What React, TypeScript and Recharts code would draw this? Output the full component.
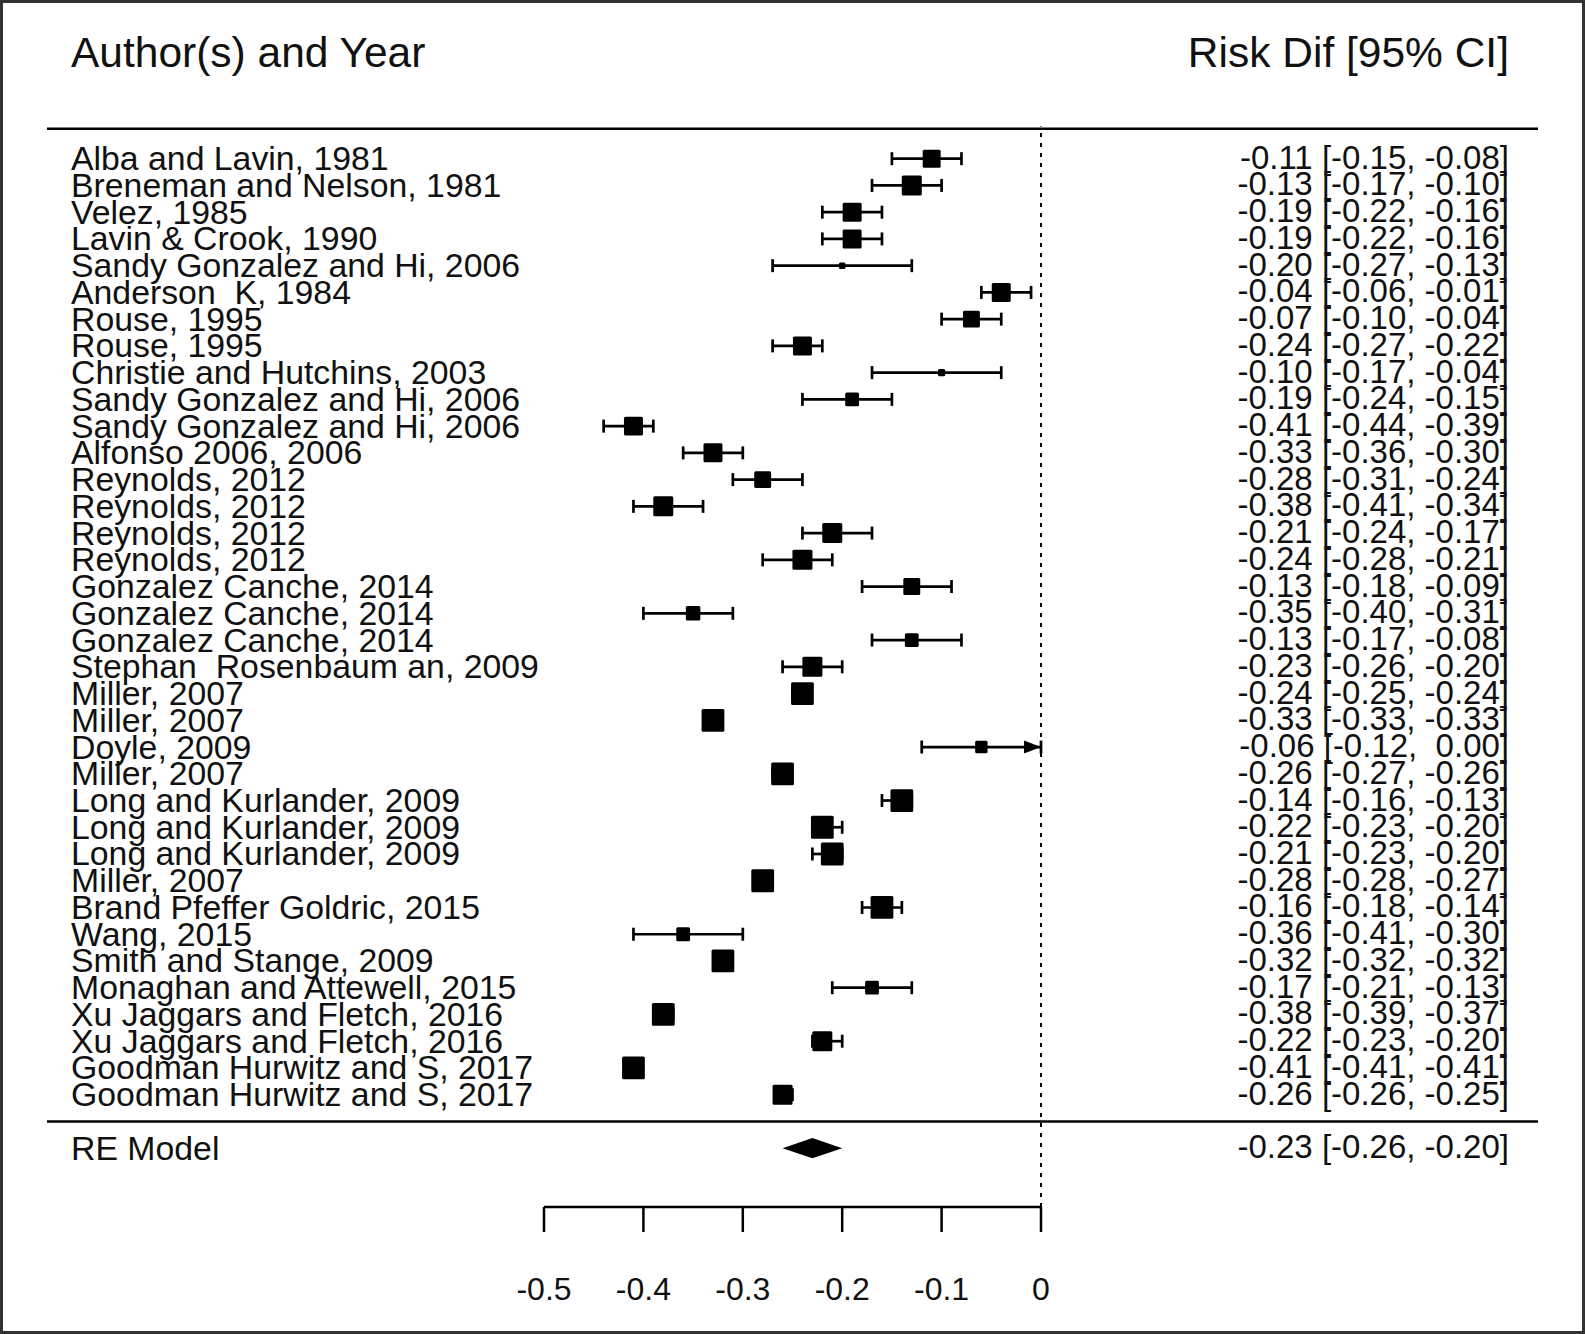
import React from "react";
import {
  ScatterChart,
  Scatter,
  XAxis,
  YAxis,
  ErrorBar,
  ReferenceLine,
  ReferenceArea,
} from "recharts";

// study labels, top to bottom
const studies = [
  "Alba and Lavin, 1981",
  "Breneman and Nelson, 1981",
  "Velez, 1985",
  "Lavin & Crook, 1990",
  "Sandy Gonzalez and Hi, 2006",
  "Anderson  K, 1984",
  "Rouse, 1995",
  "Rouse, 1995",
  "Christie and Hutchins, 2003",
  "Sandy Gonzalez and Hi, 2006",
  "Sandy Gonzalez and Hi, 2006",
  "Alfonso 2006, 2006",
  "Reynolds, 2012",
  "Reynolds, 2012",
  "Reynolds, 2012",
  "Reynolds, 2012",
  "Gonzalez Canche, 2014",
  "Gonzalez Canche, 2014",
  "Gonzalez Canche, 2014",
  "Stephan  Rosenbaum an, 2009",
  "Miller, 2007",
  "Miller, 2007",
  "Doyle, 2009",
  "Miller, 2007",
  "Long and Kurlander, 2009",
  "Long and Kurlander, 2009",
  "Long and Kurlander, 2009",
  "Miller, 2007",
  "Brand Pfeffer Goldric, 2015",
  "Wang, 2015",
  "Smith and Stange, 2009",
  "Monaghan and Attewell, 2015",
  "Xu Jaggars and Fletch, 2016",
  "Xu Jaggars and Fletch, 2016",
  "Goodman Hurwitz and S, 2017",
  "Goodman Hurwitz and S, 2017",
];

const estimates = [
  -0.11, -0.13, -0.19, -0.19, -0.2, -0.04, -0.07, -0.24, -0.1, -0.19, -0.41, -0.33,
  -0.28, -0.38, -0.21, -0.24, -0.13, -0.35, -0.13, -0.23, -0.24, -0.33, -0.06, -0.26,
  -0.14, -0.22, -0.21, -0.28, -0.16, -0.36, -0.32, -0.17, -0.38, -0.22, -0.41, -0.26,
];

const ciLower = [
  -0.15, -0.17, -0.22, -0.22, -0.27, -0.06, -0.1, -0.27, -0.17, -0.24, -0.44, -0.36,
  -0.31, -0.41, -0.24, -0.28, -0.18, -0.4, -0.17, -0.26, -0.25, -0.33, -0.12, -0.27,
  -0.16, -0.23, -0.23, -0.28, -0.18, -0.41, -0.32, -0.21, -0.39, -0.23, -0.41, -0.26,
];

const ciUpper = [
  -0.08, -0.1, -0.16, -0.16, -0.13, -0.01, -0.04, -0.22, -0.04, -0.15, -0.39, -0.3,
  -0.24, -0.34, -0.17, -0.21, -0.09, -0.31, -0.08, -0.2, -0.24, -0.33, 0.0, -0.26,
  -0.13, -0.2, -0.2, -0.27, -0.14, -0.3, -0.32, -0.13, -0.37, -0.2, -0.41, -0.25,
];

// relative study weights (drive the square size)
const weights = [
  2.6, 2.9, 2.75, 2.75, 0.95, 2.75, 2.45, 2.75, 1.05, 2.0, 2.75, 2.75,
  2.45, 2.9, 2.9, 2.9, 2.45, 2.1, 2.0, 2.9, 3.3, 3.3, 1.8, 3.3,
  3.3, 3.3, 3.3, 3.3, 3.3, 2.0, 3.3, 2.0, 3.3, 2.9, 3.3, 2.9,
];

const summaryLabel = "RE Model";
const summaryEst = -0.23;
const summaryLower = -0.26;
const summaryUpper = -0.2;

const xTicks = [-0.5, -0.4, -0.3, -0.2, -0.1, 0];

const FONT = '"Liberation Sans", Arial, sans-serif';
const SUMMARY_ROW = studies.length + 2;
const X_MAX = xTicks[xTicks.length - 1];

const rows = studies.map((_, i) => ({
  row: i + 1,
  x: estimates[i],
  err: [estimates[i] - ciLower[i], ciUpper[i] - estimates[i]],
  weight: weights[i],
}));

// CIs that run into the right axis limit get an arrow
const arrows = rows
  .filter((r) => ciUpper[r.row - 1] >= X_MAX)
  .map((r) => ({ row: r.row, x: X_MAX }));

const yTicks = [...rows.map((r) => r.row), SUMMARY_ROW];

const fmt = (v: number) => (v < 0 ? "-" : " ") + Math.abs(v).toFixed(2);
const ciText = (e: number, lo: number, hi: number) => `${fmt(e)} [${fmt(lo)}, ${fmt(hi)}]`;

function RowLabel(props: any) {
  const { y, payload } = props;
  const r = payload.value;
  const isSummary = r === SUMMARY_ROW;
  const left = isSummary ? summaryLabel : studies[r - 1];
  const right = isSummary
    ? ciText(summaryEst, summaryLower, summaryUpper)
    : ciText(estimates[r - 1], ciLower[r - 1], ciUpper[r - 1]);
  return (
    <g>
      <text x={71} y={y + 11.5} fontSize={33.8} fontFamily={FONT} fill="#111" style={{ whiteSpace: "pre" }}>
        {left}
      </text>
      <text
        x={1509}
        y={y + 10}
        textAnchor="end"
        fontSize={33}
        fontFamily={FONT}
        fill="#111"
        style={{ whiteSpace: "pre" }}
      >
        {right}
      </text>
    </g>
  );
}

function AxisTick(props: any) {
  const { x, y, payload } = props;
  return (
    <text x={x} y={y + 66} textAnchor="middle" fontSize={32} fontFamily={FONT} fill="#111">
      {String(payload.value)}
    </text>
  );
}

function Square(props: any) {
  const { cx, cy, payload } = props;
  const s = payload.weight * 6.9;
  return <rect x={cx - s / 2} y={cy - s / 2} width={s} height={s} rx={1.5} fill="#000" />;
}

function Arrow(props: any) {
  const { cx, cy } = props;
  return <polygon points={`${cx},${cy} ${cx - 17},${cy - 6.5} ${cx - 17},${cy + 6.5}`} fill="#000" />;
}

function Diamond(props: any) {
  const { x, y, width, height } = props;
  const left = width < 0 ? x + width : x;
  const top = height < 0 ? y + height : y;
  const w = Math.abs(width);
  const h = Math.abs(height);
  const cx = left + w / 2;
  const cy = top + h / 2;
  return <polygon points={`${left},${cy} ${cx},${top} ${left + w},${cy} ${cx},${top + h}`} fill="#000" />;
}

export default function App() {
  return (
    <div style={{ position: "relative", width: 1585, height: 1334, background: "#fff" }}>
      <style>{"body{margin:0}"}</style>
      <ScatterChart width={1585} height={1334} margin={{ top: 126.6, right: 544, bottom: 67, left: 534 }}>
        <XAxis
          type="number"
          dataKey="x"
          domain={[-0.5, 0]}
          allowDataOverflow
          ticks={xTicks}
          interval={0}
          height={60}
          tickSize={25}
          axisLine={{ stroke: "#000", strokeWidth: 2.5 }}
          tickLine={{ stroke: "#000", strokeWidth: 2.5 }}
          tick={<AxisTick />}
        />
        <YAxis
          type="number"
          dataKey="row"
          domain={[-0.2, 40.2]}
          allowDataOverflow
          reversed
          ticks={yTicks}
          interval={0}
          width={10}
          axisLine={false}
          tickLine={false}
          tick={<RowLabel />}
        />
        <ReferenceLine
          segment={[{ x: -1, y: -0.12 }, { x: 0.5, y: -0.12 }]}
          ifOverflow="visible"
          stroke="#000"
          strokeWidth={2.5}
        />
        <ReferenceLine
          segment={[{ x: -1, y: studies.length + 1 }, { x: 0.5, y: studies.length + 1 }]}
          ifOverflow="visible"
          stroke="#000"
          strokeWidth={2.5}
        />
        <ReferenceLine x={0} stroke="#000" strokeWidth={2} strokeDasharray="4 6" />
        <ReferenceArea
          x1={summaryLower}
          x2={summaryUpper}
          y1={SUMMARY_ROW - 0.38}
          y2={SUMMARY_ROW + 0.38}
          ifOverflow="visible"
          shape={Diamond}
        />
        <Scatter data={rows} shape={Square} isAnimationActive={false}>
          <ErrorBar dataKey="err" direction="x" width={6.5} stroke="#000" strokeWidth={2.7} isAnimationActive={false} />
        </Scatter>
        <Scatter data={arrows} shape={Arrow} isAnimationActive={false} />
      </ScatterChart>
      <svg style={{ position: "absolute", left: 0, top: 0 }} width={1585} height={120}>
        <text x={71} y={67} fontSize={42.5} fontFamily={FONT} fill="#111">
          Author(s) and Year
        </text>
        <text x={1509} y={67} textAnchor="end" fontSize={42.5} fontFamily={FONT} fill="#111">
          Risk Dif [95% CI]
        </text>
      </svg>
      <div
        style={{
          position: "absolute",
          left: 0,
          top: 0,
          width: 1585,
          height: 1334,
          boxSizing: "border-box",
          border: "3px solid #333",
          pointerEvents: "none",
        }}
      />
    </div>
  );
}
